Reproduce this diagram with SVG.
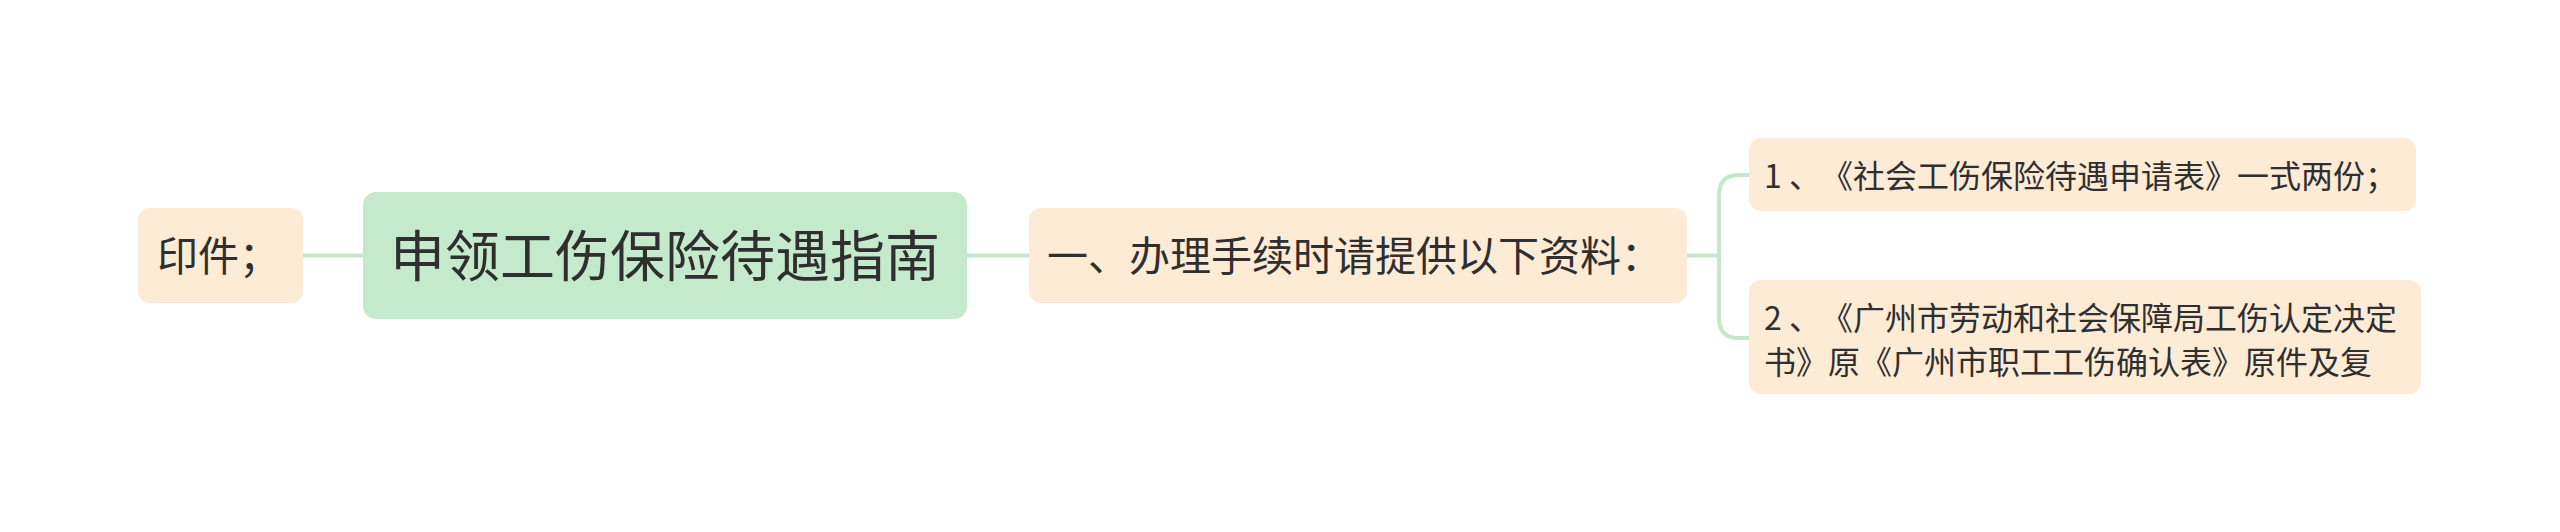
<svg xmlns="http://www.w3.org/2000/svg" width="2560" height="532" viewBox="0 0 2560 532">
  <style>
    .peach { fill: #fdebd6; }
    .root { fill: #c5eacb; }
    .t { font-family: "Noto Sans CJK SC", "Noto Sans", sans-serif; fill: #2f2f2f; text-spacing-trim: space-all; }
    .l1 { font-size: 41px; }
    .l0 { font-size: 55px; }
    .l2 { font-size: 32px; }
    .conn { fill: none; stroke: #c3e8ca; stroke-width: 4; stroke-linecap: round; stroke-linejoin: round; }
  </style>
  <rect width="2560" height="532" fill="#ffffff"/>
  <g id="connectors">
    <path class="conn" d="M303 255.5 H363"/>
    <path class="conn" d="M967 255.5 H1029"/>
    <path class="conn" d="M1687 255.5 H1719"/>
    <path class="conn" d="M1719 255.5 V195 Q1719 175 1739 175 H1749"/>
    <path class="conn" d="M1719 255.5 V318 Q1719 338 1739 338 H1749"/>
  </g>
  <g id="node-yinjian">
    <rect class="peach" x="138" y="208" width="165" height="95" rx="12"/>
    <text class="t l1" x="157" y="271">印件；</text>
  </g>
  <g id="node-root">
    <rect class="root" x="363" y="192" width="604" height="127" rx="13"/>
    <text class="t l0" x="665" y="276" text-anchor="middle">申领工伤保险待遇指南</text>
  </g>
  <g id="node-materials">
    <rect class="peach" x="1029" y="208" width="658" height="95" rx="12"/>
    <text class="t l1" x="1047" y="271">一、办理手续时请提供以下资料：</text>
  </g>
  <g id="node-item1">
    <rect class="peach" x="1749" y="138" width="667" height="73" rx="12"/>
    <text class="t l2" x="1764" y="188">1 、《社会工伤保险待遇申请表》一式两份；</text>
  </g>
  <g id="node-item2">
    <rect class="peach" x="1749" y="280" width="672" height="114" rx="12"/>
    <text class="t l2" x="1764" y="330">2 、《广州市劳动和社会保障局工伤认定决定</text>
    <text class="t l2" x="1764" y="374">书》原《广州市职工工伤确认表》原件及复</text>
  </g>
</svg>
